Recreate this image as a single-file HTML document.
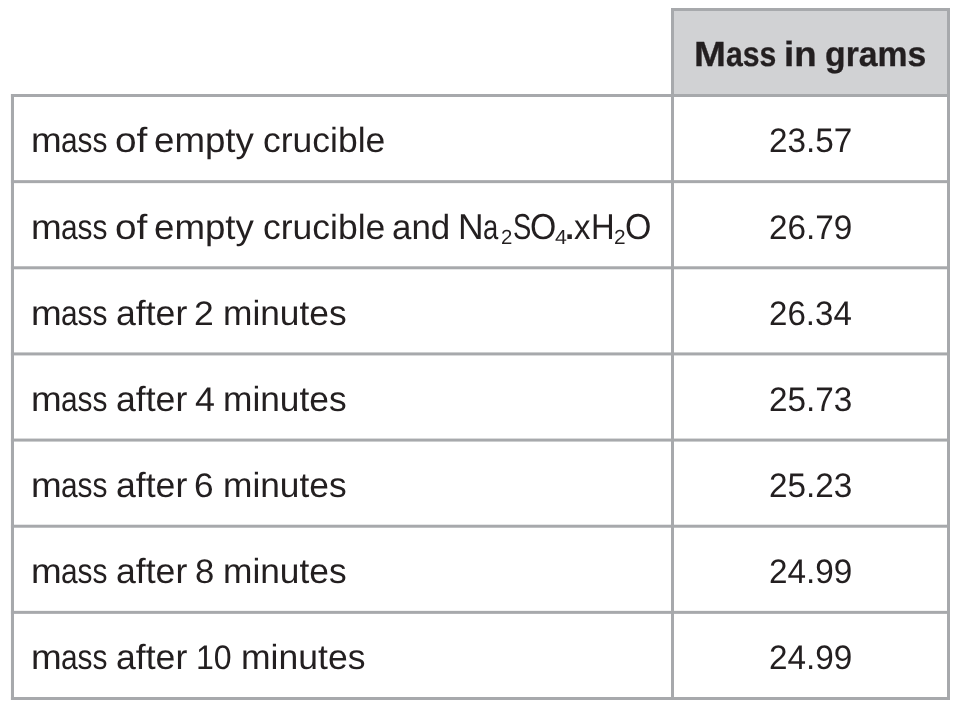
<!DOCTYPE html>
<html lang="en"><head><meta charset="utf-8"><title>Mass of crucible table</title>
<style>
html,body{margin:0;padding:0;background:#fff}
body{width:955px;height:707px;position:relative;overflow:hidden;font-family:"Liberation Sans", sans-serif;color:#231f20;text-rendering:geometricPrecision}
svg{position:absolute;left:0;top:0}
table{border-collapse:collapse;border:0;margin:0;padding:0}
td,th{padding:0;border:0;font-weight:400}
.w{position:absolute;white-space:pre;line-height:1;transform-origin:0 0;font-size:35px}
.c{font-size:36px}
.b{font-weight:700;font-size:35px;-webkit-text-stroke:0.3px #231f20}
.d{font-size:34px}
.s{font-size:20.5px;vertical-align:baseline}
.p{font-size:44px}
</style></head>
<body>
<svg width="955" height="707" viewBox="0 0 955 707" aria-hidden="true">
<rect x="674" y="11" width="273" height="83" fill="#d1d2d4"/>
<g fill="#a7a9ac">
<rect x="671" y="8" width="279" height="3"/>
<rect x="10.95" y="94.00" width="939.05" height="3"/>
<rect x="10.95" y="180.14" width="939.05" height="3"/>
<rect x="10.95" y="266.29" width="939.05" height="3"/>
<rect x="10.95" y="352.43" width="939.05" height="3"/>
<rect x="10.95" y="438.57" width="939.05" height="3"/>
<rect x="10.95" y="524.72" width="939.05" height="3"/>
<rect x="10.95" y="610.86" width="939.05" height="3"/>
<rect x="10.95" y="697.00" width="939.05" height="3"/>
<rect x="10.95" y="94" width="3.05" height="606"/>
<rect x="671" y="8" width="3" height="692"/>
<rect x="947" y="8" width="3" height="692"/>
</g></svg>
<table>
<tr>
<td></td>
<th><span class="w b" style="left:694.44px;top:37px;transform:scaleX(1.0949)">M</span><span class="w b" style="left:726.34px;top:37px;transform:scaleX(0.8625)">ass</span> <span class="w b" style="left:784.24px;top:37px;transform:scaleX(1.0467)">in</span> <span class="w b" style="left:824.69px;top:37px;transform:scaleX(0.9649)">grams</span></th>
</tr>
<tr>
<td><span class="w" style="left:30.98px;top:123px;transform:scaleX(1.0531)">m</span><span class="w" style="left:60.72px;top:123px;transform:scaleX(0.8531)">ass</span> <span class="w" style="left:115.44px;top:123px;transform:scaleX(1.1099)">of</span> <span class="w" style="left:154.33px;top:123px;transform:scaleX(1.0475)">empty</span> <span class="w" style="left:262.58px;top:123px;transform:scaleX(1.0136)">crucible</span></td>
<td><span class="w d" style="left:768.79px;top:124px;transform:scaleX(0.9798)">23.57</span></td>
</tr>
<tr>
<td><span class="w" style="left:30.98px;top:210px;transform:scaleX(1.0531)">m</span><span class="w" style="left:60.72px;top:210px;transform:scaleX(0.8531)">ass</span> <span class="w" style="left:115.44px;top:210px;transform:scaleX(1.1099)">of</span> <span class="w" style="left:154.33px;top:210px;transform:scaleX(1.0475)">empty</span> <span class="w" style="left:262.58px;top:210px;transform:scaleX(1.0136)">crucible</span> <span class="w" style="left:392.20px;top:210px;transform:scaleX(0.9973)">and</span> <span class="w c" style="left:458.25px;top:209px;transform:scaleX(0.9850)">N</span><span class="w" style="left:483.12px;top:210px;transform:scaleX(0.7833)">a</span><sub class="w s" style="left:500.81px;top:228px;transform:scaleX(0.9946)">2</sub><span class="w c" style="left:512.57px;top:209px;transform:scaleX(0.7610)">S</span><span class="w c" style="left:529.56px;top:209px;transform:scaleX(0.9388)">O</span><sub class="w s" style="left:554.88px;top:228px;transform:scaleX(1.0439)">4</sub><span class="w p" style="left:563.37px;top:203px;transform:scaleX(1.0824)">.</span><span class="w" style="left:573.93px;top:210px;transform:scaleX(0.9394)">x</span><span class="w c" style="left:591.27px;top:209px;transform:scaleX(0.9100)">H</span><sub class="w s" style="left:613.88px;top:228px;transform:scaleX(1.0162)">2</sub><span class="w c" style="left:624.55px;top:209px;transform:scaleX(0.9429)">O</span></td>
<td><span class="w d" style="left:768.79px;top:211px;transform:scaleX(0.9798)">26.79</span></td>
</tr>
<tr>
<td><span class="w" style="left:30.98px;top:296px;transform:scaleX(1.0531)">m</span><span class="w" style="left:60.72px;top:296px;transform:scaleX(0.8531)">ass</span> <span class="w" style="left:115.77px;top:296px;transform:scaleX(1.0176)">after</span> <span class="w d" style="left:194.17px;top:297px;transform:scaleX(1.0452)">2</span> <span class="w" style="left:222.73px;top:296px;transform:scaleX(1.0084)">minutes</span></td>
<td><span class="w d" style="left:768.80px;top:297px;transform:scaleX(0.9739)">26.34</span></td>
</tr>
<tr>
<td><span class="w" style="left:30.98px;top:382px;transform:scaleX(1.0531)">m</span><span class="w" style="left:60.72px;top:382px;transform:scaleX(0.8531)">ass</span> <span class="w" style="left:115.77px;top:382px;transform:scaleX(1.0176)">after</span> <span class="w d" style="left:194.51px;top:383px;transform:scaleX(1.0551)">4</span> <span class="w" style="left:222.73px;top:382px;transform:scaleX(1.0084)">minutes</span></td>
<td><span class="w d" style="left:768.79px;top:383px;transform:scaleX(0.9798)">25.73</span></td>
</tr>
<tr>
<td><span class="w" style="left:30.98px;top:468px;transform:scaleX(1.0531)">m</span><span class="w" style="left:60.72px;top:468px;transform:scaleX(0.8531)">ass</span> <span class="w" style="left:115.77px;top:468px;transform:scaleX(1.0176)">after</span> <span class="w d" style="left:194.49px;top:469px;transform:scaleX(1.0349)">6</span> <span class="w" style="left:222.73px;top:468px;transform:scaleX(1.0084)">minutes</span></td>
<td><span class="w d" style="left:768.79px;top:469px;transform:scaleX(0.9798)">25.23</span></td>
</tr>
<tr>
<td><span class="w" style="left:30.98px;top:554px;transform:scaleX(1.0531)">m</span><span class="w" style="left:60.72px;top:554px;transform:scaleX(0.8531)">ass</span> <span class="w" style="left:115.77px;top:554px;transform:scaleX(1.0176)">after</span> <span class="w d" style="left:194.77px;top:555px;transform:scaleX(1.0187)">8</span> <span class="w" style="left:222.73px;top:554px;transform:scaleX(1.0084)">minutes</span></td>
<td><span class="w d" style="left:768.79px;top:555px;transform:scaleX(0.9798)">24.99</span></td>
</tr>
<tr>
<td><span class="w" style="left:30.98px;top:640px;transform:scaleX(1.0531)">m</span><span class="w" style="left:60.72px;top:640px;transform:scaleX(0.8531)">ass</span> <span class="w" style="left:115.77px;top:640px;transform:scaleX(1.0176)">after</span> <span class="w d" style="left:196.44px;top:641px;transform:scaleX(0.9441)">10</span> <span class="w" style="left:241.22px;top:640px;transform:scaleX(1.0151)">minutes</span></td>
<td><span class="w d" style="left:768.79px;top:641px;transform:scaleX(0.9798)">24.99</span></td>
</tr>
</table>
</body></html>
